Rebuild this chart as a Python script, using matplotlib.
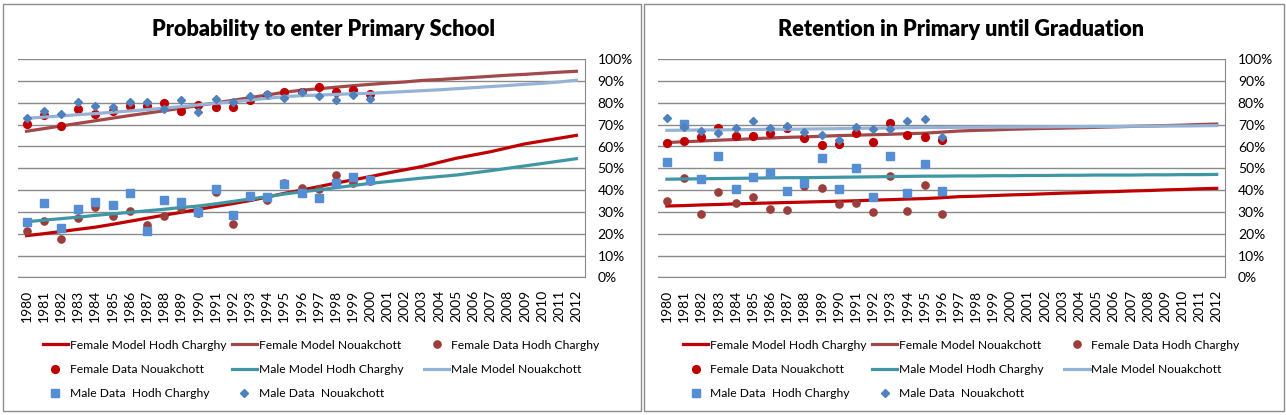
import numpy as np
import matplotlib
matplotlib.use("Agg")
import matplotlib.pyplot as plt
from matplotlib.patches import Rectangle
from matplotlib.legend import Legend

plt.rcParams['font.family'] = ['Lato', 'DejaVu Sans']

years = [str(y) for y in range(1980, 2013)]
data_years_left = list(range(1980, 2001))
data_years_right = list(range(1980, 1997))

# --- Probability to enter Primary School (values in %) ---
enter_fm_hc = [19.1, 20.0, 21.0, 22.0, 23.0, 24.3, 25.7, 27.1, 28.5, 29.8, 31.2, 32.5, 33.8,
               35.2, 36.8, 38.5, 40.0, 41.6, 43.2, 44.7, 46.2, 47.8, 49.3, 50.8, 52.7, 54.6,
               56.1, 57.6, 59.4, 61.2, 62.5, 63.8, 65.1]
enter_fm_nkc = [67.0, 68.2, 69.4, 70.6, 71.8, 73.0, 74.2, 75.3, 76.4, 77.6, 78.8, 80.0, 81.2,
                82.4, 83.6, 84.9, 85.8, 86.5, 87.2, 87.9, 88.5, 89.1, 89.6, 90.3, 90.7, 91.2,
                91.7, 92.2, 92.7, 93.1, 93.6, 94.1, 94.5]
enter_mm_hc = [25.5, 26.2, 26.9, 27.6, 28.4, 29.1, 29.8, 30.5, 31.2, 32.0, 32.7, 33.7, 34.8,
               35.9, 37.0, 38.2, 39.2, 40.1, 41.1, 42.1, 43.1, 43.9, 44.7, 45.5, 46.2, 46.9,
               47.9, 48.9, 50.0, 51.1, 52.2, 53.3, 54.4]
enter_mm_nkc = [72.9, 73.5, 74.0, 74.6, 75.1, 75.7, 76.3, 76.9, 77.6, 78.3, 79.1, 79.8, 80.5,
                81.3, 82.1, 82.9, 83.3, 83.6, 83.9, 84.2, 84.4, 84.8, 85.2, 85.6, 86.0, 86.5,
                87.0, 87.5, 88.0, 88.5, 89.0, 89.6, 90.4]
enter_fd_hc = [21.3, 25.7, 17.4, 27.2, 32.3, 28.3, 30.4, 23.9, 28.0, 32.0, 29.4, 39.3, 24.3,
               37.0, 35.5, 43.4, 41.1, 40.4, 46.8, 43.4, 44.2]
enter_fd_nkc = [70.2, 74.6, 69.6, 77.2, 75.1, 76.3, 78.6, 78.6, 79.8, 76.5, 79.2, 78.0, 78.0,
                81.3, 83.6, 84.9, 84.9, 87.2, 85.2, 85.9, 83.9]
enter_md_hc = [25.4, 33.9, 22.5, 31.2, 34.4, 33.2, 38.5, 21.3, 35.3, 34.7, 29.8, 40.5, 28.4,
               37.2, 37.0, 42.8, 38.5, 36.2, 43.1, 45.9, 44.6]
enter_md_nkc = [72.9, 76.1, 74.9, 80.3, 78.4, 78.3, 80.6, 80.4, 77.1, 81.5, 75.8, 81.7, 80.4,
                83.2, 83.9, 82.4, 85.2, 83.3, 81.3, 83.6, 81.8]

# --- Retention in Primary until Graduation (values in %) ---
ret_fm_hc = [32.7, 32.9, 33.2, 33.4, 33.7, 33.9, 34.1, 34.3, 34.5, 34.7, 34.9, 35.1, 35.4,
             35.6, 35.9, 36.1, 36.5, 37.0, 37.2, 37.5, 37.8, 38.0, 38.3, 38.6, 38.8, 39.1,
             39.3, 39.6, 39.8, 40.1, 40.3, 40.6, 40.8]
ret_fm_nkc = [61.8, 62.2, 62.5, 62.9, 63.2, 63.6, 63.9, 64.2, 64.4, 64.7, 65.0, 65.2, 65.4,
              65.6, 65.9, 66.1, 66.6, 67.1, 67.4, 67.6, 67.9, 68.1, 68.3, 68.4, 68.6, 68.8,
              69.0, 69.2, 69.4, 69.6, 69.8, 70.1, 70.3]
ret_mm_hc = [45.0, 45.1, 45.2, 45.3, 45.4, 45.5, 45.6, 45.7, 45.7, 45.8, 45.9, 46.0, 46.1,
             46.2, 46.3, 46.4, 46.4, 46.5, 46.5, 46.6, 46.6, 46.7, 46.7, 46.8, 46.8, 46.9,
             46.9, 46.9, 47.0, 47.0, 47.1, 47.1, 47.2]
ret_mm_nkc = [67.4, 67.5, 67.6, 67.6, 67.7, 67.8, 67.9, 67.9, 68.0, 68.1, 68.2, 68.3, 68.4,
              68.5, 68.6, 68.7, 68.7, 68.8, 68.8, 68.9, 68.9, 69.0, 69.0, 69.1, 69.1, 69.2,
              69.2, 69.3, 69.3, 69.4, 69.4, 69.5, 69.6]
ret_fd_hc = [35.2, 45.7, 28.9, 39.0, 33.9, 37.0, 31.3, 30.9, 42.0, 40.8, 33.5, 33.9, 29.8,
             46.5, 30.4, 42.2, 29.2]
ret_fd_nkc = [61.5, 62.4, 64.2, 68.5, 65.0, 64.7, 66.1, 68.5, 64.1, 60.6, 61.3, 66.2, 61.9,
              70.6, 65.4, 64.2, 62.8]
ret_md_hc = [53.1, 70.3, 45.1, 55.5, 40.4, 45.9, 48.0, 39.4, 43.4, 54.9, 40.4, 50.0, 37.0,
             55.8, 38.5, 51.8, 39.4]
ret_md_nkc = [73.1, 69.1, 67.1, 66.4, 68.3, 71.9, 68.3, 69.3, 66.5, 65.3, 63.0, 68.8, 68.0,
              67.9, 71.9, 72.6, 64.2]

labels = ["Female Model Hodh Charghy", "Female Model Nouakchott", "Female Data Hodh Charghy",
          "Female Data Nouakchott", "Male Model Hodh Charghy", "Male Model Nouakchott",
          "Male Data  Hodh Charghy", "Male Data  Nouakchott"]

title_left = "Probability to enter Primary School"
title_right = "Retention in Primary until Graduation"

c_fm_hc = "#C00000"
c_fm_nkc = "#A3484A"
c_fd_hc = "#9B3D3B"
c_fd_nkc = "#C00000"
c_mm_hc = "#3F97A5"
c_mm_nkc = "#95B3D7"
c_md_hc = "#558ED5"
c_md_nkc = "#4F81BD"

W, H = 1286, 415
fig = plt.figure(figsize=(W / 100, H / 100), dpi=100)
rend = fig.canvas.get_renderer()


def fit_size(text, target_px, **kw):
    # font size that makes text about target_px wide
    t = fig.text(0, 0, text, fontsize=10, **kw)
    w = t.get_window_extent(rend).width
    t.remove()
    return 10 * target_px / w


legend_fs = fit_size(labels[0], 156)
title_fs = fit_size(title_left, 346, fontweight='heavy')

# chart frames
for x0, x1 in [(3, 641), (644, 1284)]:
    fig.patches.append(Rectangle((x0 / W, 4 / H), (x1 - x0) / W, (411 - 4) / H,
                                 transform=fig.transFigure, fill=False,
                                 edgecolor="#8c8c8c", linewidth=1.0))

AX_W, AX_H = 567, 218


def draw(ax, title, title_x, models, datas, data_years):
    xpos = np.arange(len(years))
    m1, m2, m3, m4 = models
    d1, d2, d3, d4 = datas
    dx = [years.index(str(y)) for y in data_years]
    lw = 2.3
    h = []
    h += ax.plot(xpos, m1, color=c_fm_hc, lw=lw)
    h += ax.plot(xpos, m2, color=c_fm_nkc, lw=lw)
    h += ax.plot(dx, d1, 'o', color=c_fd_hc, ms=5.2, ls='none')
    h += ax.plot(dx, d2, 'o', color=c_fd_nkc, ms=5.6, ls='none')
    h += ax.plot(xpos, m3, color=c_mm_hc, lw=lw)
    h += ax.plot(xpos, m4, color=c_mm_nkc, lw=lw)
    h += ax.plot(dx, d3, 's', color=c_md_hc, ms=5.2, ls='none')
    h += ax.plot(dx, d4, 'D', color=c_md_nkc, ms=3.6, ls='none')

    ax.set_xlim(-0.5, len(years) - 0.5)
    ax.set_ylim(0, 100)
    ax.set_yticks(np.arange(0, 101, 10))
    ax.set_yticklabels([f"{v}%" for v in range(0, 101, 10)])
    ax.set_xticks(xpos)
    ax.set_xticklabels(years, rotation=90)
    ax.yaxis.tick_right()
    ax.tick_params(axis='y', length=0, pad=9, labelsize=10)
    ax.tick_params(axis='x', length=0, pad=9, labelsize=10)
    ax.grid(axis='y', color="#8a8a8a", lw=1.0)
    ax.set_axisbelow(True)
    for s in ['left', 'top']:
        ax.spines[s].set_visible(False)
    for s in ['right', 'bottom']:
        ax.spines[s].set_color("#8a8a8a")
    fig.text(title_x / W, 1 - 29 / H, title, fontsize=title_fs, fontweight='heavy',
             ha='center', va='center')

    # three legend columns at fixed offsets (Excel style equal columns)
    cols = [[0, 3, 6], [1, 4, 7], [2, 5]]
    col_x = [24.7, 213.7, 406]
    for idx, cx in zip(cols, col_x):
        leg = Legend(ax, [h[i] for i in idx], [labels[i] for i in idx],
                     loc='upper left', bbox_to_anchor=(cx / AX_W, -0.286),
                     frameon=False, fontsize=legend_fs, handlelength=2.1,
                     handletextpad=0.12, labelspacing=1.1,
                     borderaxespad=0, borderpad=0)
        ax.add_artist(leg)


ax1 = fig.add_axes([18 / W, (H - 277.3) / H, AX_W / W, AX_H / H])
draw(ax1, title_left, 324,
     [enter_fm_hc, enter_fm_nkc, enter_mm_hc, enter_mm_nkc],
     [enter_fd_hc, enter_fd_nkc, enter_md_hc, enter_md_nkc], data_years_left)

ax2 = fig.add_axes([658.3 / W, (H - 277.3) / H, AX_W / W, AX_H / H])
draw(ax2, title_right, 961,
     [ret_fm_hc, ret_fm_nkc, ret_mm_hc, ret_mm_nkc],
     [ret_fd_hc, ret_fd_nkc, ret_md_hc, ret_md_nkc], data_years_right)

fig.savefig("out.png", dpi=100)
